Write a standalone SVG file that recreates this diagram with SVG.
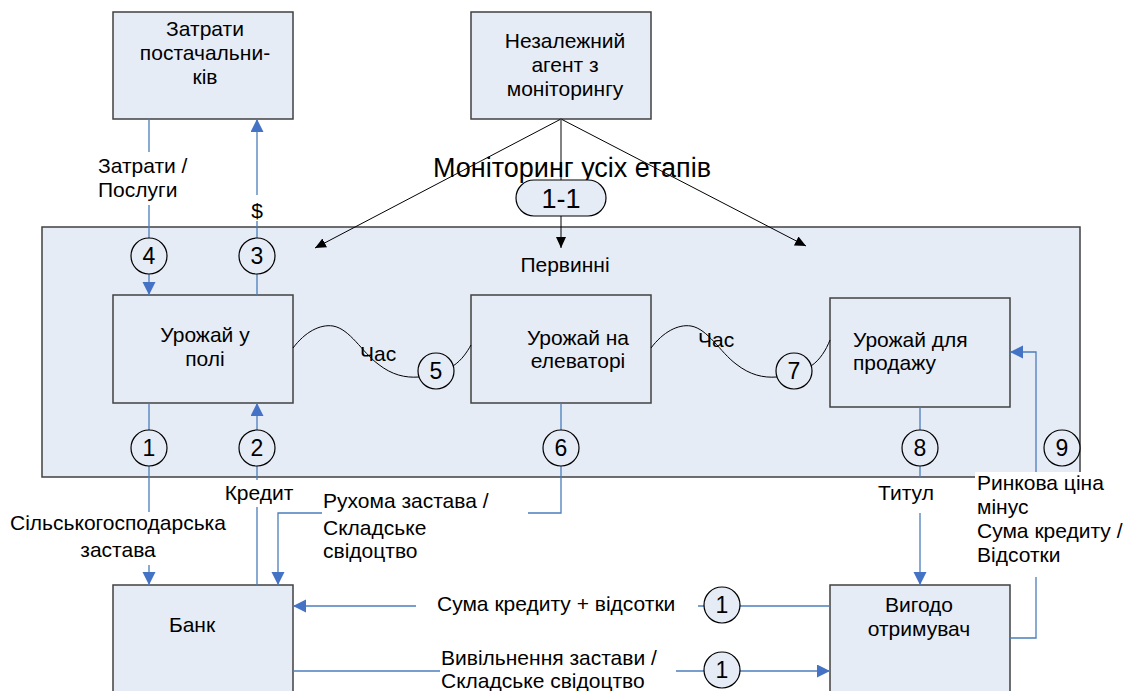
<svg xmlns="http://www.w3.org/2000/svg" width="1125" height="691" viewBox="0 0 1125 691">
<style>
.t{font-family:"Liberation Sans",Arial,sans-serif;font-size:21px;fill:#000}
.c{text-anchor:middle}
.n{font-family:"Liberation Sans",Arial,sans-serif;font-size:23px;fill:#000;text-anchor:middle}
.big{font-family:"Liberation Sans",Arial,sans-serif;font-size:27px;fill:#000}
.box{fill:#E6ECF6;stroke:#404040;stroke-width:1.5}
.bl{fill:none;stroke:#4A7EBB;stroke-width:1.3}
.bk{fill:none;stroke:#000;stroke-width:1}
.gr{fill:none;stroke:#595959;stroke-width:1.5}
.cir{fill:#E6ECF6;stroke:#000;stroke-width:1.2}
</style>
<defs>
<marker id="ab" markerUnits="userSpaceOnUse" markerWidth="14" markerHeight="14" refX="13" refY="6.5" orient="auto">
<path d="M0,0 L13,6.5 L0,13 Z" fill="#4472C4"/>
</marker>
<marker id="ak" markerUnits="userSpaceOnUse" markerWidth="12" markerHeight="12" refX="11" refY="5" orient="auto">
<path d="M0,0 L11,5 L0,10 Z" fill="#000"/>
</marker>
</defs>
<rect width="1125" height="691" fill="#fff"/>

<g id="primary">
<rect class="box" x="42" y="227" width="1038" height="250"/>
<text class="t c" x="565" y="272">Первинні</text>
</g>

<g id="suppliers">
<rect class="box" x="113" y="12" width="180" height="107"/>
<text class="t c" x="205" y="36">Затрати</text>
<text class="t c" x="205" y="60">постачальни-</text>
<text class="t c" x="205" y="84">ків</text>
</g>

<g id="monitor">
<rect class="box" x="471" y="12" width="180" height="107"/>
<text class="t c" x="565" y="48">Незалежний</text>
<text class="t c" x="565" y="72">агент з</text>
<text class="t c" x="565" y="96">моніторингу</text>
</g>

<g id="field">
<rect class="box" x="113" y="295" width="180" height="108"/>
<text class="t c" x="205" y="342">Урожай у</text>
<text class="t c" x="205" y="366">полі</text>
</g>

<g id="elevator">
<rect class="box" x="471" y="295" width="180" height="108"/>
<text class="t c" x="578" y="345">Урожай на</text>
<text class="t c" x="578" y="368">елеваторі</text>
</g>

<g id="sale">
<rect class="box" x="830" y="298" width="180" height="109"/>
<text class="t" x="853" y="347">Урожай для</text>
<text class="t" x="853" y="370">продажу</text>
</g>

<g id="bank">
<rect class="box" x="113" y="585" width="180" height="120"/>
<text class="t c" x="192" y="632">Банк</text>
</g>

<g id="beneficiary">
<rect class="box" x="830" y="585" width="180" height="120"/>
<text class="t c" x="919" y="612">Вигодо</text>
<text class="t c" x="919" y="636">отримувач</text>
</g>

<g id="connectors">
<!-- monitoring -->
<path class="bk" d="M561,119 L315,248" marker-end="url(#ak)"/>
<path class="bk" d="M561,119 L806,246" marker-end="url(#ak)"/>
<path class="gr" d="M561,119 V180"/>
<path class="bk" d="M561,216 V248" marker-end="url(#ak)"/>
<text class="big" x="433" y="177">Моніторинг усіх етапів</text>
<rect x="516" y="180" width="90" height="36" rx="18" ry="18" class="cir"/>
<text class="big" x="561" y="208" text-anchor="middle">1-1</text>

<!-- 4: costs/services -->
<path class="bl" d="M149,119 V152 M149,205 V238"/>
<path class="bl" d="M149,274 V295" marker-end="url(#ab)"/>
<text class="t" x="98" y="173">Затрати /</text>
<text class="t" x="98" y="197">Послуги</text>
<circle class="cir" cx="149" cy="256" r="18"/>
<text class="n" x="149" y="264">4</text>

<!-- 3: $ -->
<path class="bl" d="M257,295 V274 M257,238 V221"/>
<path class="bl" d="M257,195 V119" marker-end="url(#ab)"/>
<text class="t c" x="257" y="218">$</text>
<circle class="cir" cx="257" cy="256" r="18"/>
<text class="n" x="257" y="264">3</text>

<!-- time curves -->
<path class="bk" d="M293,348 C305,332 320,324 333,326 C350,329 362,352 378,364 C392,375 405,378 419,377"/>
<path class="bk" d="M453,366 C462,360 467,352 471,345"/>
<text class="t" x="360" y="361">Час</text>
<circle class="cir" cx="436" cy="371" r="18"/>
<text class="n" x="436" y="379">5</text>

<path class="bk" d="M651,348 C663,332 678,324 691,326 C708,329 720,352 736,364 C750,375 763,378 777,377"/>
<path class="bk" d="M811,366 C820,360 826,350 830,340"/>
<text class="t" x="698" y="347">Час</text>
<circle class="cir" cx="794" cy="371" r="18"/>
<text class="n" x="794" y="379">7</text>

<!-- 1: agricultural collateral -->
<path class="bl" d="M149,403 V430 M149,466 V512"/>
<path class="bl" d="M149,565 V585" marker-end="url(#ab)"/>
<text class="t c" x="118" y="530">Сільськогосподарська</text>
<text class="t c" x="118" y="557">застава</text>
<circle class="cir" cx="149" cy="448" r="18"/>
<text class="n" x="149" y="456">1</text>

<!-- 2: credit -->
<path class="bl" d="M257,585 V507 M257,480 V466"/>
<path class="bl" d="M257,430 V403" marker-end="url(#ab)"/>
<text class="t c" x="259" y="500">Кредит</text>
<circle class="cir" cx="257" cy="448" r="18"/>
<text class="n" x="257" y="456">2</text>

<!-- 6: movable collateral -->
<path class="bl" d="M561,403 V430 M561,466 V513 H528"/>
<path class="bl" d="M322,513 H278 V585" marker-end="url(#ab)"/>
<text class="t" x="323" y="508">Рухома застава /</text>
<text class="t" x="323" y="535">Складське</text>
<text class="t" x="323" y="558">свідоцтво</text>
<circle class="cir" cx="561" cy="448" r="18"/>
<text class="n" x="561" y="456">6</text>

<!-- 8: title -->
<path class="bl" d="M920,407 V430 M920,466 V478"/>
<path class="bl" d="M920,513 V585" marker-end="url(#ab)"/>
<text class="t c" x="906" y="500">Титул</text>
<circle class="cir" cx="920" cy="448" r="18"/>
<text class="n" x="920" y="456">8</text>

<!-- 9: market price -->
<path class="bl" d="M1010,638 H1036 V577"/>
<path class="bl" d="M1036,472 V352 H1010" marker-end="url(#ab)"/>
<circle class="cir" cx="1062" cy="448" r="18"/>
<text class="n" x="1062" y="456">9</text>
<rect x="975" y="472" width="140" height="103" fill="#fff"/>
<text class="t" x="977" y="490">Ринкова ціна</text>
<text class="t" x="977" y="514">мінус</text>
<text class="t" x="977" y="538">Сума кредиту /</text>
<text class="t" x="977" y="562">Відсотки</text>

<!-- repayment -->
<path class="bl" d="M830,606 H698"/>
<path class="bl" d="M416,606 H293" marker-end="url(#ab)"/>
<text class="t" x="437" y="611">Сума кредиту + відсотки</text>
<circle class="cir" cx="722" cy="605" r="18"/>
<text class="n" x="722" y="613">1</text>

<!-- release -->
<path class="bl" d="M293,671 H440"/>
<path class="bl" d="M676,671 H830" marker-end="url(#ab)"/>
<text class="t" x="441" y="665">Вивільнення застави /</text>
<text class="t" x="441" y="688">Складське свідоцтво</text>
<circle class="cir" cx="722" cy="670" r="18"/>
<text class="n" x="722" y="678">1</text>
</g>
</svg>
